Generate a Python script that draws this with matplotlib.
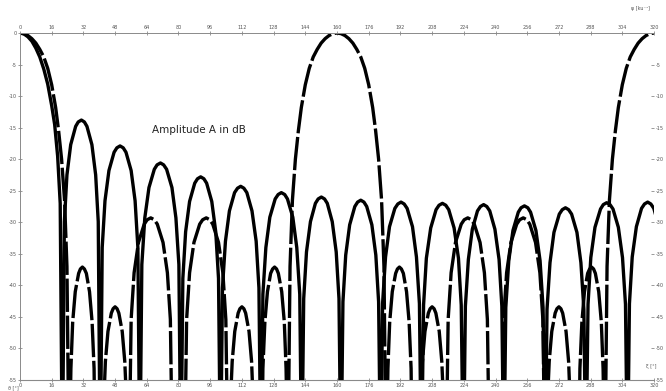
import matplotlib
matplotlib.use("Agg")
import matplotlib.pyplot as plt

# ejes: valores de las marcas
top_ticks = [0, 16, 32, 48, 64, 80, 96, 112, 128, 144, 160, 176, 192, 208,
             224, 240, 256, 272, 288, 304, 320]
db_ticks = [0, -5, -10, -15, -20, -25, -30, -35, -40, -45, -50, -55]

solid_u = [
    0, 2, 4, 6, 8, 10, 12, 14, 16, 17.5, 19, 20.3,
    21.4, 22.4, 23.7, 25.6, 28.1, 29.4, 31.0, 32.5, 33.8, 36.3, 38.2, 39.5,
    40.5, 41.5, 42.9, 44.9, 47.5, 48.9, 50.5, 52.1, 53.5, 56.1, 58.1, 59.5,
    60.5, 61.5, 63.0, 65.1, 67.8, 69.2, 70.9, 72.5, 74.0, 76.7, 78.7, 80.2,
    81.2, 82.2, 83.6, 85.6, 88.2, 89.6, 91.2, 92.8, 94.2, 96.8, 98.8, 100.2,
    101.2, 102.2, 103.7, 105.7, 108.3, 109.8, 111.4, 113.0, 114.5, 117.1, 119.2, 120.6,
    121.6, 122.6, 124.1, 126.1, 128.8, 130.3, 131.9, 133.6, 135.0, 137.7, 139.7, 141.2,
    142.2, 143.2, 144.6, 146.6, 149.1, 150.5, 152.1, 153.7, 155.1, 157.6, 159.6, 161.0,
    162.0, 163.0, 164.4, 166.4, 169.0, 170.4, 172.0, 173.6, 175.0, 177.6, 179.6, 181.0,
    182.0, 183.0, 184.5, 186.5, 189.2, 190.7, 192.3, 193.9, 195.4, 198.1, 200.1, 201.6,
    202.6, 203.7, 205.1, 207.3, 210.0, 211.5, 213.2, 214.9, 216.4, 219.1, 221.3, 222.7,
    223.8, 224.8, 226.3, 228.3, 230.9, 232.4, 234.0, 235.6, 237.1, 239.7, 241.8, 243.2,
    244.2, 245.2, 246.7, 248.8, 251.5, 252.9, 254.6, 256.3, 257.7, 260.4, 262.5, 264.0,
    265.0, 266.0, 267.5, 269.5, 272.2, 273.7, 275.3, 276.9, 278.4, 281.1, 283.1, 284.6,
    285.6, 286.7, 288.1, 290.2, 293.0, 294.4, 296.1, 297.8, 299.3, 302.0, 304.1, 305.6,
    306.6, 307.6, 309.0, 311.1, 313.7, 315.2, 316.8, 318.4, 319.9, 322.5, 324.5, 326.0, 327.0,
]
solid_db = [
    0, -0.15, -0.6, -1.3, -2.4, -3.8, -5.7, -8.1, -11.5, -14.5, -19.5, -27,
    -70, -29.9, -22.5, -17.7, -14.8, -14.1, -13.8, -14.1, -14.8, -17.7, -22.5, -29.9,
    -70, -34.0, -26.6, -21.8, -18.9, -18.2, -17.9, -18.2, -18.9, -21.8, -26.6, -34.0,
    -70, -36.7, -29.3, -24.5, -21.6, -20.9, -20.6, -20.9, -21.6, -24.5, -29.3, -36.7,
    -70, -38.9, -31.5, -26.7, -23.8, -23.1, -22.8, -23.1, -23.8, -26.7, -31.5, -38.9,
    -70, -40.4, -33.0, -28.2, -25.3, -24.6, -24.3, -24.6, -25.3, -28.2, -33.0, -40.4,
    -70, -41.4, -34.0, -29.2, -26.3, -25.6, -25.3, -25.6, -26.3, -29.2, -34.0, -41.4,
    -70, -42.1, -34.7, -29.9, -27.0, -26.3, -26.0, -26.3, -27.0, -29.9, -34.7, -42.1,
    -70, -42.6, -35.2, -30.4, -27.5, -26.8, -26.5, -26.8, -27.5, -30.4, -35.2, -42.6,
    -70, -42.9, -35.5, -30.7, -27.8, -27.1, -26.8, -27.1, -27.8, -30.7, -35.5, -42.9,
    -70, -43.1, -35.7, -30.9, -28.0, -27.3, -27.0, -27.3, -28.0, -30.9, -35.7, -43.1,
    -70, -43.3, -35.9, -31.1, -28.2, -27.5, -27.2, -27.5, -28.2, -31.1, -35.9, -43.3,
    -70, -43.5, -36.1, -31.3, -28.4, -27.7, -27.4, -27.7, -28.4, -31.3, -36.1, -43.5,
    -70, -43.8, -36.4, -31.6, -28.7, -28.0, -27.7, -28.0, -28.7, -31.6, -36.4, -43.8,
    -70, -43.0, -35.6, -30.8, -27.9, -27.2, -26.9, -27.2, -27.9, -30.8, -35.6, -43.0,
    -70, -42.9, -35.5, -30.7, -27.8, -27.1, -26.8, -27.1, -27.8, -30.7, -35.5, -42.9, -70,
]

# curva a trazos (con lobulos de rejilla en 160 y 320)
dashed_u = [
    0, 2, 4, 6, 8, 10, 12, 14, 16, 18, 19.5, 21, 22.5, 23.7,
    24.8, 25.7, 26.6, 27.9, 29.6, 30.5, 31.5, 32.5, 33.5, 35.1, 36.4, 37.4,
    38.0, 41.5, 42.2, 43.1, 44.4, 46.1, 47.0, 48.0, 49.0, 49.9, 51.6, 52.9, 53.9,
    54.5, 55.0, 56.1, 57.6, 59.8, 62.7, 64.2, 66.0, 67.8, 69.3, 72.2, 74.4, 75.9,
    77.0, 83.0, 84.1, 85.6, 87.8, 90.7, 92.2, 94.0, 95.8, 97.3, 100.2, 102.4, 103.9,
    105.0, 105.5, 106.1, 107.1, 108.4, 110.1, 111.0, 112.0, 113.0, 113.9, 115.6, 116.9, 117.8,
    118.5, 122.0, 122.6, 123.6, 124.9, 126.5, 127.5, 128.5, 129.5, 130.4, 132.1, 133.4, 134.3,
    135.2, 136.3, 137.5, 139.0, 140.5, 142, 144, 146, 148, 150, 152, 154, 156, 158, 160,
    162, 164, 166, 168, 170, 172, 174, 176, 178, 179.5, 181, 182.5, 183.7,
    184.8, 185.7, 186.6, 187.9, 189.6, 190.5, 191.5, 192.5, 193.5, 195.1, 196.4, 197.4,
    198.0, 201.5, 202.2, 203.1, 204.4, 206.1, 207.0, 208.0, 209.0, 209.9, 211.6, 212.9, 213.9,
    214.5, 215.0, 216.1, 217.6, 219.8, 222.7, 224.2, 226.0, 227.8, 229.3, 232.2, 234.4, 235.9,
    237.0, 243.0, 244.1, 245.6, 247.8, 250.7, 252.2, 254.0, 255.8, 257.3, 260.2, 262.4, 263.9,
    265.0, 265.5, 266.1, 267.1, 268.4, 270.1, 271.0, 272.0, 273.0, 273.9, 275.6, 276.9, 277.8,
    278.5, 282.0, 282.6, 283.6, 284.9, 286.5, 287.5, 288.5, 289.5, 290.4, 292.1, 293.4, 294.3,
    295.2, 296.3, 297.5, 299.0, 300.5, 302, 304, 306, 308, 310, 312, 314, 316, 318, 320,
]
dashed_db = [
    0, -0.1, -0.4, -0.9, -1.6, -2.6, -3.8, -5.6, -8.2, -11.8, -15.5, -20.0, -26.5, -37.0,
    -70, -53.2, -45.8, -41.0, -38.1, -37.4, -37.1, -37.4, -38.1, -41.0, -45.8, -53.2,
    -70, -70, -59.5, -52.1, -47.3, -44.4, -43.7, -43.4, -43.7, -44.4, -47.3, -52.1, -59.5,
    -70, -70, -45.4, -38.0, -33.2, -30.3, -29.6, -29.3, -29.6, -30.3, -33.2, -38.0, -45.4,
    -70, -70, -45.4, -38.0, -33.2, -30.3, -29.6, -29.3, -29.6, -30.3, -33.2, -38.0, -45.4,
    -70, -70, -59.5, -52.1, -47.3, -44.4, -43.7, -43.4, -43.7, -44.4, -47.3, -52.1, -59.5,
    -70, -70, -53.2, -45.8, -41.0, -38.1, -37.4, -37.1, -37.4, -38.1, -41.0, -45.8, -53.2,
    -70, -37.0, -26.5, -20.0, -15.5, -11.8, -8.2, -5.6, -3.8, -2.6, -1.6, -0.9, -0.4, -0.1, 0,
    -0.1, -0.4, -0.9, -1.6, -2.6, -3.8, -5.6, -8.2, -11.8, -15.5, -20.0, -26.5, -37.0,
    -70, -53.2, -45.8, -41.0, -38.1, -37.4, -37.1, -37.4, -38.1, -41.0, -45.8, -53.2,
    -70, -70, -59.5, -52.1, -47.3, -44.4, -43.7, -43.4, -43.7, -44.4, -47.3, -52.1, -59.5,
    -70, -70, -45.4, -38.0, -33.2, -30.3, -29.6, -29.3, -29.6, -30.3, -33.2, -38.0, -45.4,
    -70, -70, -45.4, -38.0, -33.2, -30.3, -29.6, -29.3, -29.6, -30.3, -33.2, -38.0, -45.4,
    -70, -70, -59.5, -52.1, -47.3, -44.4, -43.7, -43.4, -43.7, -44.4, -47.3, -52.1, -59.5,
    -70, -70, -53.2, -45.8, -41.0, -38.1, -37.4, -37.1, -37.4, -38.1, -41.0, -45.8, -53.2,
    -70, -37.0, -26.5, -20.0, -15.5, -11.8, -8.2, -5.6, -3.8, -2.6, -1.6, -0.9, -0.4, -0.1, 0,
]

GRIS = '#8a8a8a'
TEXTO = '#555555'


def preparar_ejes(ax):
    ax.set_xlim(0, 320)
    ax.set_ylim(-55, 0)
    for lado in ['left', 'top', 'bottom']:
        ax.spines[lado].set_color(GRIS)
        ax.spines[lado].set_linewidth(0.7)
    ax.spines['right'].set_visible(False)

    # escala superior
    ax.xaxis.set_ticks_position('top')
    ax.set_xticks(top_ticks)
    ax.set_xticklabels([str(t) for t in top_ticks])
    ax.tick_params(axis='x', direction='inout', length=3, width=0.6,
                   colors=GRIS, labelcolor=TEXTO, labelsize=3.5, pad=1)

    ax.set_yticks(db_ticks)
    ax.set_yticklabels([str(t) for t in db_ticks])
    ax.tick_params(axis='y', direction='inout', length=3, width=0.6,
                   colors=GRIS, labelcolor=TEXTO, labelsize=3.5, pad=1)

    # escala inferior
    abajo = ax.secondary_xaxis('bottom')
    abajo.set_xticks(top_ticks)
    abajo.set_xticklabels([str(t) for t in top_ticks])
    abajo.tick_params(direction='inout', length=3, width=0.6, colors=GRIS,
                      labelcolor=TEXTO, labelsize=3.5, pad=1)
    abajo.spines['bottom'].set_color(GRIS)

    # escala derecha
    derecha = ax.secondary_yaxis('right')
    derecha.set_yticks(db_ticks[1:])
    derecha.set_yticklabels([str(t) for t in db_ticks[1:]])
    derecha.tick_params(direction='in', length=2, width=0.6, colors=GRIS,
                        labelcolor=TEXTO, labelsize=3.5, pad=1)
    derecha.spines['right'].set_visible(False)


def main():
    fig = plt.figure(figsize=(6.66, 3.91), dpi=100)
    ax = fig.add_axes([0.030, 0.0281, 0.952, 0.8875])
    preparar_ejes(ax)

    ax.plot(solid_u, solid_db, color='black', lw=2.4, solid_capstyle='butt')
    ax.plot(dashed_u, dashed_db, color='black', lw=2.4, dashes=(10, 1.1))

    ax.text(66.7, -15.4, 'Amplitude A in dB', fontsize=7.5, color='#222222',
            ha='left', va='center')
    fig.text(0.962, 0.975, 'ψ [ku⁻¹]', fontsize=3.5, color=TEXTO, ha='center')
    fig.text(0.985, 0.06, 'ξ [°]', fontsize=3.5, color=TEXTO, ha='right')
    fig.text(0.012, 0.004, 'ϑ [°]', fontsize=3.5, color=TEXTO, ha='left')

    fig.savefig('out.png', dpi=100)


if __name__ == '__main__':
    main()
